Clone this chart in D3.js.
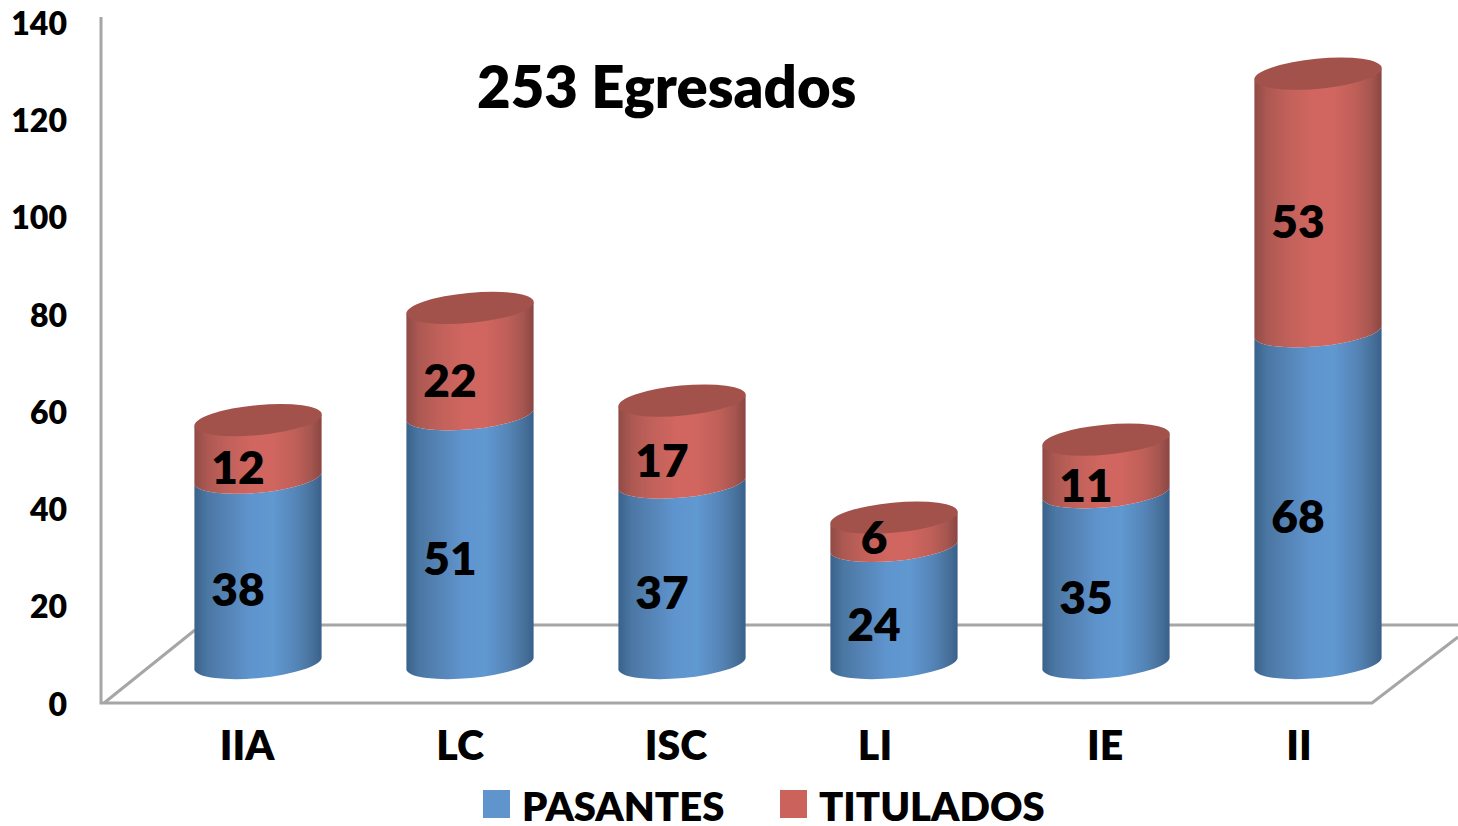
<!DOCTYPE html>
<html>
<head>
<meta charset="utf-8">
<script src="https://cdnjs.cloudflare.com/ajax/libs/d3/7.8.5/d3.min.js"></script>
<style>
  html, body { margin: 0; padding: 0; background: #fff; }
  svg { display: block; }
  text { font-family: Lato, "Open Sans", sans-serif; font-weight: 800; fill: #000; }
</style>
</head>
<body>
<svg id="chart" width="1458" height="826"></svg>
<script>
var categories = ["IIA", "LC", "ISC", "LI", "IE", "II"];
var pasantes = [38, 51, 37, 24, 35, 68];
var titulados = [12, 22, 17, 6, 11, 53];
var yTicks = [0, 20, 40, 60, 80, 100, 120, 140];
var seriesNames = ["PASANTES", "TITULADOS"];
var titleText = "253 Egresados";

var svg = d3.select("#chart");

var rows = categories.map(function(c, i) {
  return { cat: c, PASANTES: pasantes[i], TITULADOS: titulados[i] };
});
var stacked = d3.stack().keys(seriesNames)(rows);

// The walls sit further down than the cylinders, so there are two y scales
var yAxisScale = d3.scaleLinear().domain([0, 140]).range([705, 24]);
var yBar = d3.scaleLinear().domain([0, 140]).range([664, -19]);
var x = d3.scaleBand().domain(categories).range([152, 1424])
  .paddingInner(0.4).paddingOuter(0.2);

// Category labels in the picture are not centred under the cylinders
var catLabelShift = { IIA: -11, LC: -10, ISC: -6, LI: -19, IE: -1, II: -19 };

var colors = {
  PASANTES: { grad: "grad-blue", flat: "#5F94CC", cap: "#5F94CC" },
  TITULADOS: { grad: "grad-red", flat: "#CC625C", cap: "#A2524B" }
};

var defs = svg.append("defs");
function addGradient(id, stops) {
  var g = defs.append("linearGradient").attr("id", id)
    .attr("x1", 0).attr("x2", 1).attr("y1", 0).attr("y2", 0);
  stops.forEach(function(s) {
    g.append("stop").attr("offset", s[0]).attr("stop-color", s[1]);
  });
}
addGradient("grad-blue", [[0, "#3A628A"], [0.1, "#4A77A3"], [0.25, "#5583B5"],
  [0.45, "#5F95CE"], [0.62, "#6098D0"], [0.8, "#5585B8"], [0.92, "#48729C"], [1, "#39608A"]]);
addGradient("grad-red", [[0, "#8F4B46"], [0.1, "#AD5852"], [0.25, "#C0605A"],
  [0.45, "#D0665F"], [0.62, "#D0665F"], [0.8, "#BE5F58"], [0.92, "#A55550"], [1, "#8A4641"]]);

// Walls and floor
var walls = svg.append("g").attr("fill", "none").attr("stroke", "#A6A6A6").attr("stroke-width", 3);
walls.append("path").attr("d", "M101,17V703H1372L1458,637");
walls.append("path").attr("d", "M104,703L195,630");
walls.append("path").attr("d", "M195,625H1458");

// Y axis
var yAxis = d3.axisLeft(yAxisScale).tickValues(yTicks).tickSize(0).tickPadding(0);
var yG = svg.append("g").attr("transform", "translate(67,0)").call(yAxis);
yG.select(".domain").remove();
yG.selectAll("text").style("font-size", "32px").style("font-family", "Lato").style("font-weight", 800);

// Cylinders
var tiltY = 6, rx = 64, ry = 15, tiltDeg = -5.4;

function segmentPath(xL, xR, y0, y1) {
  return "M" + xL + "," + (y0 + tiltY) +
    "A" + rx + "," + ry + " " + tiltDeg + " 0 0 " + xR + "," + (y0 - tiltY) +
    "L" + xR + "," + (y1 - tiltY) +
    "A" + rx + "," + ry + " " + tiltDeg + " 0 1 " + xL + "," + (y1 + tiltY) + "Z";
}

stacked.forEach(function(layer) {
  var c = colors[layer.key];
  svg.append("g").selectAll("path")
    .data(layer)
    .enter().append("path")
    .attr("fill", "url(#" + c.grad + ")")
    .attr("d", function(d) {
      var xL = x(d.data.cat);
      return segmentPath(xL, xL + x.bandwidth(), yBar(d[0]), yBar(d[1]));
    });
});

// Top caps on the last series
var topLayer = stacked[stacked.length - 1];
svg.append("g").selectAll("ellipse")
  .data(topLayer)
  .enter().append("ellipse")
  .attr("rx", rx).attr("ry", ry)
  .attr("fill", colors.TITULADOS.cap)
  .attr("transform", function(d) {
    return "translate(" + (x(d.data.cat) + x.bandwidth() / 2) + "," + yBar(d[1]) + ") rotate(" + tiltDeg + ")";
  });

// Data labels
stacked.forEach(function(layer) {
  svg.append("g").selectAll("text")
    .data(layer)
    .enter().append("text")
    .attr("text-anchor", "middle")
    .attr("dy", "0.35em")
    .style("font-size", "46px")
    .attr("x", function(d) { return x(d.data.cat) + x.bandwidth() / 2 - 20; })
    .attr("y", function(d) {
      var v = d[1] - d[0];
      return yBar((d[0] + d[1]) / 2) + (v < 10 ? 6 : 19);
    })
    .text(function(d) { return d[1] - d[0]; });
});

// Category labels
svg.append("g").selectAll("text")
  .data(categories)
  .enter().append("text")
  .attr("text-anchor", "middle")
  .attr("x", function(d) { return x(d) + x.bandwidth() / 2 + catLabelShift[d]; })
  .attr("y", 760)
  .style("font-size", "41px")
  .text(function(d) { return d; });

// Title
svg.append("text")
  .attr("x", 477).attr("y", 108)
  .style("font-size", "58px")
  .text(titleText);

// Legend
var legendX = d3.scaleOrdinal().domain(seriesNames).range([483, 780]);
var legend = svg.append("g").selectAll("g")
  .data(seriesNames)
  .enter().append("g")
  .attr("transform", function(d) { return "translate(" + legendX(d) + ",790)"; });
legend.append("rect")
  .attr("width", 27).attr("height", 28)
  .attr("fill", function(d) { return colors[d].flat; });
legend.append("text")
  .attr("x", 39).attr("y", 31)
  .style("font-size", "40px")
  .text(function(d) { return d; });
</script>
</body>
</html>
